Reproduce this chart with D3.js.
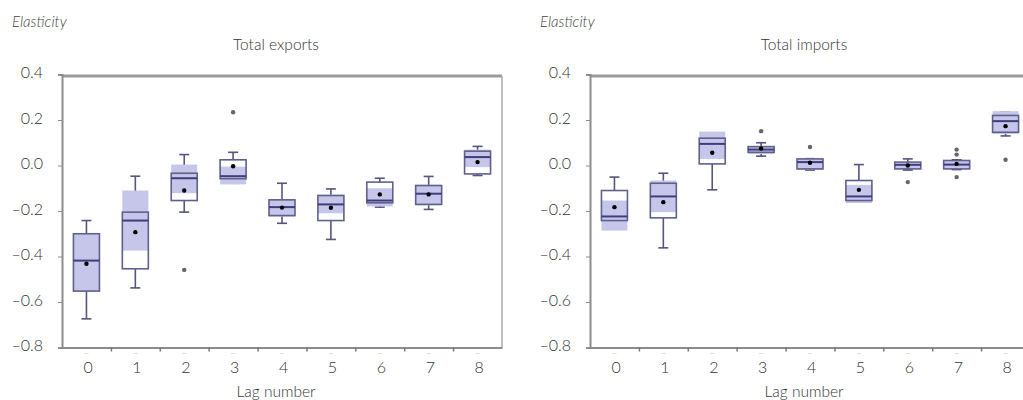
<!DOCTYPE html>
<html>
<head>
<meta charset="utf-8">
<script src="https://cdn.jsdelivr.net/npm/d3@7"></script>
<style>
    body { margin: 0; background: #fff; }
    text { font-family: Lato, "Open Sans", sans-serif; font-weight: 300; }
</style>
</head>
<body>
<div id="chart"></div>
<script>

const lags = [0, 1, 2, 3, 4, 5, 6, 7, 8]
const yTicks = [0.4, 0.2, 0.0, -0.2, -0.4, -0.6, -0.8]

// [whisker low, q1, median, q3, whisker high]
const exportsBox = [
    [-0.674, -0.552, -0.418, -0.300, -0.242],
    [-0.538, -0.454, -0.242, -0.205, -0.047],
    [-0.205, -0.154, -0.056, -0.034, 0.048],
    [-0.078, -0.058, -0.047, 0.025, 0.058],
    [-0.254, -0.220, -0.183, -0.151, -0.078],
    [-0.325, -0.242, -0.171, -0.132, -0.103],
    [-0.183, -0.164, -0.154, -0.073, -0.056],
    [-0.193, -0.171, -0.124, -0.088, -0.048],
    [-0.044, -0.037, 0.037, 0.063, 0.084]
]
const exportsMean = [-0.432, -0.293, -0.110, -0.003, -0.185, -0.186, -0.127, -0.127, 0.015]
// shaded band [low, high]
const exportsShade = [
    [-0.552, -0.300], [-0.374, -0.110], [-0.122, 0.004], [-0.083, -0.005], [-0.225, -0.148],
    [-0.210, -0.128], [-0.180, -0.100], [-0.175, -0.085], [-0.007, 0.070]
]
const exportsOutliers = [[2, -0.459], [3, 0.234]]

const importsBox = [
    [-0.270, -0.242, -0.224, -0.110, -0.051],
    [-0.362, -0.230, -0.136, -0.078, -0.034],
    [-0.107, 0.007, 0.095, 0.120, 0.135],
    [0.041, 0.058, 0.070, 0.083, 0.100],
    [-0.020, -0.015, 0.015, 0.029, 0.030],
    [-0.160, -0.154, -0.136, -0.066, 0.004],
    [-0.020, -0.015, 0.003, 0.015, 0.029],
    [-0.018, -0.015, 0.004, 0.022, 0.025],
    [0.130, 0.146, 0.195, 0.220, 0.235]
]
const importsMean = [-0.183, -0.161, 0.056, 0.075, 0.012, -0.107, 0.000, 0.007, 0.173]
const importsShade = [
    [-0.286, -0.154], [-0.205, -0.066], [0.029, 0.149], [0.050, 0.085], [-0.018, 0.030],
    [-0.165, -0.085], [-0.015, 0.012], [-0.015, 0.020], [0.139, 0.239]
]
const importsOutliers = [[3, 0.151], [4, 0.081], [6, -0.073], [7, 0.070], [7, 0.048], [7, -0.051], [8, 0.025]]

const svg = d3.select('#chart').append('svg')
    .attr('width', 1023)
    .attr('height', 400)

const fmt = d => (d < 0 ? '\u2013' : '') + Math.abs(d).toFixed(1)

function drawPanel(opt) {

    const x = d3.scaleBand().domain(lags).range([opt.left, opt.left + 440])
    const xEdge = d3.scaleLinear().domain([0, 9]).range([opt.left, opt.left + 440])
    const y = d3.scaleLinear().domain([-0.8, 0.4]).range([347.5, 74.5])
    const g = svg.append('g')

    g.append('text')
        .attr('x', opt.left - 50)
        .attr('y', 27)
        .attr('font-size', 15)
        .attr('font-style', 'italic')
        .attr('fill', '#444')
        .text('Elasticity')

    g.append('text')
        .attr('x', opt.left + 214)
        .attr('y', 50)
        .attr('text-anchor', 'middle')
        .attr('font-size', 15.5)
        .attr('fill', '#333')
        .text(opt.title)

    g.append('text')
        .attr('x', opt.left + 214)
        .attr('y', 397)
        .attr('text-anchor', 'middle')
        .attr('font-size', 15.5)
        .attr('fill', '#333')
        .text('Lag number')

    // frame top and right
    g.append('line')
        .attr('x1', opt.left).attr('x2', opt.left + 440)
        .attr('y1', 76).attr('y2', 76)
        .attr('stroke', '#9a9a9a').attr('stroke-width', 3)
    g.append('line')
        .attr('x1', opt.left + 440).attr('x2', opt.left + 440)
        .attr('y1', 76).attr('y2', y(-0.8))
        .attr('stroke', '#aaa').attr('stroke-width', 1.5)

    const yAxis = g.append('g')
        .attr('transform', `translate(${opt.left},0)`)
        .call(d3.axisLeft(y).tickValues(yTicks).tickSize(4).tickPadding(15).tickFormat(fmt))
    yAxis.select('.domain').attr('stroke', '#8c8c8c').attr('stroke-width', 2)
    yAxis.selectAll('.tick line').attr('stroke', '#8c8c8c')
    yAxis.selectAll('.tick text').attr('font-size', 16).attr('fill', '#333').attr('dy', '0.2em')

    const xAxis = g.append('g')
        .attr('transform', `translate(0,${y(-0.8)})`)
        .call(d3.axisBottom(x).tickSize(0).tickPadding(14))
    xAxis.select('.domain').attr('stroke', '#8c8c8c').attr('stroke-width', 2)
    xAxis.selectAll('.tick text').attr('font-size', 16).attr('fill', '#333').attr('dx', '0.1em')

    g.append('g')
        .attr('transform', `translate(0,${y(-0.8)})`)
        .call(d3.axisBottom(xEdge).tickValues([1, 2, 3, 4, 5, 6, 7, 8]).tickSize(4).tickFormat(''))
        .call(a => a.select('.domain').remove())
        .selectAll('.tick line').attr('stroke', '#777').attr('stroke-width', 1.5)

    // faint marks under the axis at the category centres
    g.selectAll('.faint').data(lags).enter()
        .append('line')
        .attr('x1', d => x(d) + x.bandwidth() / 2 - 2)
        .attr('x2', d => x(d) + x.bandwidth() / 2 + 2)
        .attr('y1', y(-0.8) + 6).attr('y2', y(-0.8) + 6)
        .attr('stroke', '#ddd').attr('stroke-width', 1)

    const bw = 26
    const cx = i => x(lags[i]) + x.bandwidth() / 2

    // whiskers
    opt.box.forEach((b, i) => {
        const c = cx(i)
        const wg = g.append('g').attr('stroke', '#55557e').attr('stroke-width', 1.6)
        wg.append('line').attr('x1', c).attr('x2', c).attr('y1', y(b[3])).attr('y2', y(b[4]))
        wg.append('line').attr('x1', c).attr('x2', c).attr('y1', y(b[1])).attr('y2', y(b[0]))
        wg.append('line').attr('x1', c - 5).attr('x2', c + 5).attr('y1', y(b[4])).attr('y2', y(b[4]))
        wg.append('line').attr('x1', c - 5).attr('x2', c + 5).attr('y1', y(b[0])).attr('y2', y(b[0]))
    })

    g.selectAll('.boxbg').data(opt.box).enter()
        .append('rect')
        .attr('x', (d, i) => cx(i) - bw / 2)
        .attr('width', bw)
        .attr('y', d => y(d[3]))
        .attr('height', d => y(d[1]) - y(d[3]))
        .attr('fill', '#fff')

    g.selectAll('.shade').data(opt.shade).enter()
        .append('rect')
        .attr('x', (d, i) => cx(i) - bw / 2)
        .attr('width', bw)
        .attr('y', d => y(d[1]))
        .attr('height', d => y(d[0]) - y(d[1]))
        .attr('fill', '#c6c6ea')

    g.selectAll('.box').data(opt.box).enter()
        .append('rect')
        .attr('x', (d, i) => cx(i) - bw / 2)
        .attr('width', bw)
        .attr('y', d => y(d[3]))
        .attr('height', d => y(d[1]) - y(d[3]))
        .attr('fill', 'none')
        .attr('stroke', '#60608c')
        .attr('stroke-width', 1.6)

    g.selectAll('.median').data(opt.box).enter()
        .append('line')
        .attr('x1', (d, i) => cx(i) - bw / 2)
        .attr('x2', (d, i) => cx(i) + bw / 2)
        .attr('y1', d => y(d[2]))
        .attr('y2', d => y(d[2]))
        .attr('stroke', '#3e3e7c')
        .attr('stroke-width', 2)

    g.selectAll('.outlier').data(opt.outliers).enter()
        .append('circle')
        .attr('cx', d => x(d[0]) + x.bandwidth() / 2)
        .attr('cy', d => y(d[1]))
        .attr('r', 2.2)
        .attr('fill', '#666')

    g.selectAll('.mean').data(opt.mean).enter()
        .append('circle')
        .attr('cx', (d, i) => cx(i))
        .attr('cy', d => y(d))
        .attr('r', 2.2)
        .attr('fill', '#000')
}

drawPanel({ left: 62, title: 'Total exports', box: exportsBox, mean: exportsMean, shade: exportsShade, outliers: exportsOutliers })
drawPanel({ left: 590, title: 'Total imports', box: importsBox, mean: importsMean, shade: importsShade, outliers: importsOutliers })

</script>
</body>
</html>
